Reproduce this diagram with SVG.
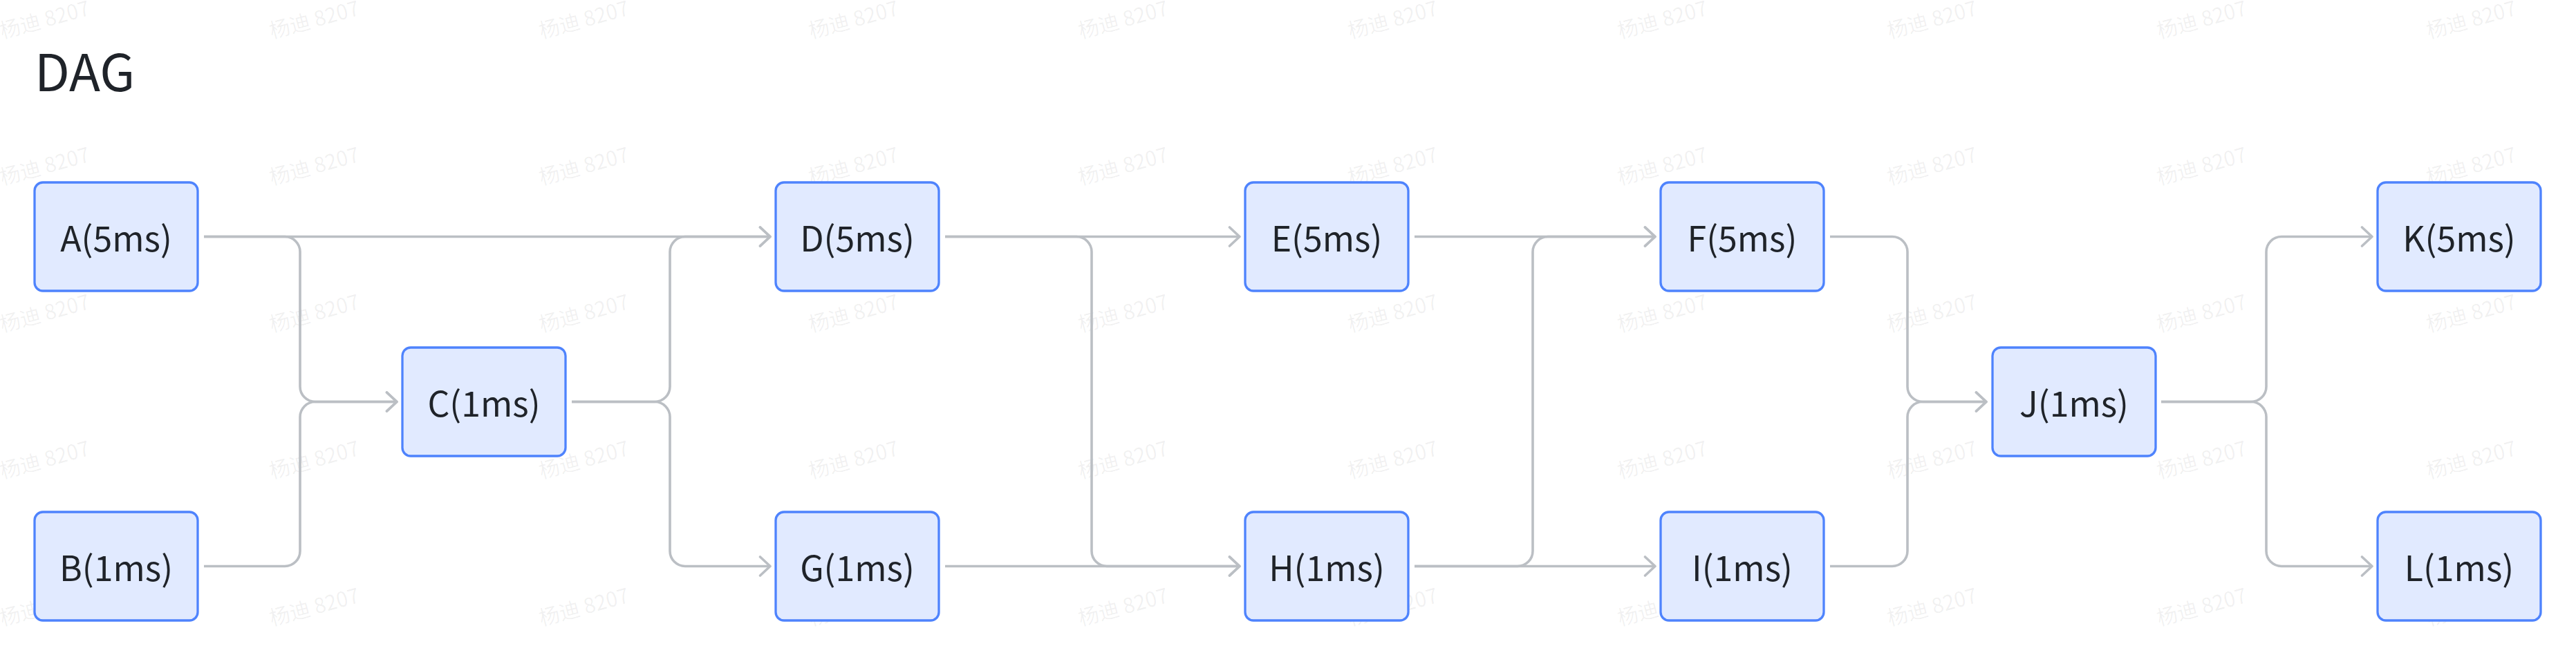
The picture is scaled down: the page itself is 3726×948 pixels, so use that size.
<svg xmlns="http://www.w3.org/2000/svg" width="3726" height="948" viewBox="0 0 3726 948">
<style>
.wm{font-family:"Noto Sans CJK SC","Noto Sans",sans-serif;font-size:30px;fill:#1f2329;fill-opacity:0.065}
.title{font-family:"Noto Sans CJK SC","Noto Sans",sans-serif;font-size:74px;fill:#1f2329}
.box{fill:#e1eaff;stroke:#4e83fd;stroke-width:3.3}
.lbl{font-family:"Noto Sans CJK SC","Noto Sans",sans-serif;font-size:50px;fill:#1f2329;text-anchor:middle}
.edge{fill:none;stroke:#bbbfc4;stroke-width:3.6;marker-end:url(#arr)}
</style>
<defs>
<marker id="arr" markerUnits="userSpaceOnUse" markerWidth="22" markerHeight="36" refX="17" refY="18" orient="auto">
<path d="M2.5,4.5 L17,18 L2.5,31.5" fill="none" stroke="#bbbfc4" stroke-width="3.6" stroke-linecap="round" stroke-linejoin="round"/>
</marker>
<text id="w" class="wm" transform="rotate(-15)">杨迪 8207</text>
</defs>
<rect width="3726" height="948" fill="#ffffff"/>
<g id="watermarks">
<use href="#w" transform="translate(3,56)"/><use href="#w" transform="translate(393,56)"/><use href="#w" transform="translate(783,56)"/><use href="#w" transform="translate(1173,56)"/><use href="#w" transform="translate(1563,56)"/><use href="#w" transform="translate(1953,56)"/><use href="#w" transform="translate(2343,56)"/><use href="#w" transform="translate(2733,56)"/><use href="#w" transform="translate(3123,56)"/><use href="#w" transform="translate(3513,56)"/>
<use href="#w" transform="translate(3,268)"/><use href="#w" transform="translate(393,268)"/><use href="#w" transform="translate(783,268)"/><use href="#w" transform="translate(1173,268)"/><use href="#w" transform="translate(1563,268)"/><use href="#w" transform="translate(1953,268)"/><use href="#w" transform="translate(2343,268)"/><use href="#w" transform="translate(2733,268)"/><use href="#w" transform="translate(3123,268)"/><use href="#w" transform="translate(3513,268)"/>
<use href="#w" transform="translate(3,481)"/><use href="#w" transform="translate(393,481)"/><use href="#w" transform="translate(783,481)"/><use href="#w" transform="translate(1173,481)"/><use href="#w" transform="translate(1563,481)"/><use href="#w" transform="translate(1953,481)"/><use href="#w" transform="translate(2343,481)"/><use href="#w" transform="translate(2733,481)"/><use href="#w" transform="translate(3123,481)"/><use href="#w" transform="translate(3513,481)"/>
<use href="#w" transform="translate(3,693)"/><use href="#w" transform="translate(393,693)"/><use href="#w" transform="translate(783,693)"/><use href="#w" transform="translate(1173,693)"/><use href="#w" transform="translate(1563,693)"/><use href="#w" transform="translate(1953,693)"/><use href="#w" transform="translate(2343,693)"/><use href="#w" transform="translate(2733,693)"/><use href="#w" transform="translate(3123,693)"/><use href="#w" transform="translate(3513,693)"/>
<use href="#w" transform="translate(3,906)"/><use href="#w" transform="translate(393,906)"/><use href="#w" transform="translate(783,906)"/><use href="#w" transform="translate(1173,906)"/><use href="#w" transform="translate(1563,906)"/><use href="#w" transform="translate(1953,906)"/><use href="#w" transform="translate(2343,906)"/><use href="#w" transform="translate(2733,906)"/><use href="#w" transform="translate(3123,906)"/><use href="#w" transform="translate(3513,906)"/>
</g>
<text class="title" x="50" y="132">DAG</text>
<g id="connectors">
<path class="edge" d="M295,342.5 H1114"/>
<path class="edge" d="M295,342.5 H412 A22,22 0 0 1 434,364.5 V559.5 A22,22 0 0 0 456,581.5 H574"/>
<path class="edge" d="M295,819.5 H412 A22,22 0 0 0 434,797.5 V603.5 A22,22 0 0 1 456,581.5 H574"/>
<path class="edge" d="M827,581.5 H947 A22,22 0 0 0 969,559.5 V364.5 A22,22 0 0 1 991,342.5 H1114"/>
<path class="edge" d="M827,581.5 H947 A22,22 0 0 1 969,603.5 V797.5 A22,22 0 0 0 991,819.5 H1114"/>
<path class="edge" d="M1367,342.5 H1793"/>
<path class="edge" d="M1367,342.5 H1557 A22,22 0 0 1 1579,364.5 V797.5 A22,22 0 0 0 1601,819.5 H1793"/>
<path class="edge" d="M1367,819.5 H1793"/>
<path class="edge" d="M2046,342.5 H2394"/>
<path class="edge" d="M2046,819.5 H2195 A22,22 0 0 0 2217,797.5 V364.5 A22,22 0 0 1 2239,342.5 H2394"/>
<path class="edge" d="M2046,819.5 H2394"/>
<path class="edge" d="M2647,342.5 H2737 A22,22 0 0 1 2759,364.5 V559.5 A22,22 0 0 0 2781,581.5 H2873"/>
<path class="edge" d="M2647,819.5 H2737 A22,22 0 0 0 2759,797.5 V603.5 A22,22 0 0 1 2781,581.5 H2873"/>
<path class="edge" d="M3126,581.5 H3256 A22,22 0 0 0 3278,559.5 V364.5 A22,22 0 0 1 3300,342.5 H3431"/>
<path class="edge" d="M3126,581.5 H3256 A22,22 0 0 1 3278,603.5 V797.5 A22,22 0 0 0 3300,819.5 H3431"/>
</g>
<g id="A"><rect class="box" x="50" y="264" width="236" height="157" rx="12"/><text class="lbl" x="168" y="364">A(5ms)</text></g>
<g id="B"><rect class="box" x="50" y="741" width="236" height="157" rx="12"/><text class="lbl" x="168" y="841">B(1ms)</text></g>
<g id="C"><rect class="box" x="582" y="503" width="236" height="157" rx="12"/><text class="lbl" x="700" y="603">C(1ms)</text></g>
<g id="D"><rect class="box" x="1122" y="264" width="236" height="157" rx="12"/><text class="lbl" x="1240" y="364">D(5ms)</text></g>
<g id="G"><rect class="box" x="1122" y="741" width="236" height="157" rx="12"/><text class="lbl" x="1240" y="841">G(1ms)</text></g>
<g id="E"><rect class="box" x="1801" y="264" width="236" height="157" rx="12"/><text class="lbl" x="1919" y="364">E(5ms)</text></g>
<g id="H"><rect class="box" x="1801" y="741" width="236" height="157" rx="12"/><text class="lbl" x="1919" y="841">H(1ms)</text></g>
<g id="F"><rect class="box" x="2402" y="264" width="236" height="157" rx="12"/><text class="lbl" x="2520" y="364">F(5ms)</text></g>
<g id="I"><rect class="box" x="2402" y="741" width="236" height="157" rx="12"/><text class="lbl" x="2520" y="841">I(1ms)</text></g>
<g id="J"><rect class="box" x="2882" y="503" width="236" height="157" rx="12"/><text class="lbl" x="3000" y="603">J(1ms)</text></g>
<g id="K"><rect class="box" x="3439" y="264" width="236" height="157" rx="12"/><text class="lbl" x="3557" y="364">K(5ms)</text></g>
<g id="L"><rect class="box" x="3439" y="741" width="236" height="157" rx="12"/><text class="lbl" x="3557" y="841">L(1ms)</text></g>
</svg>
